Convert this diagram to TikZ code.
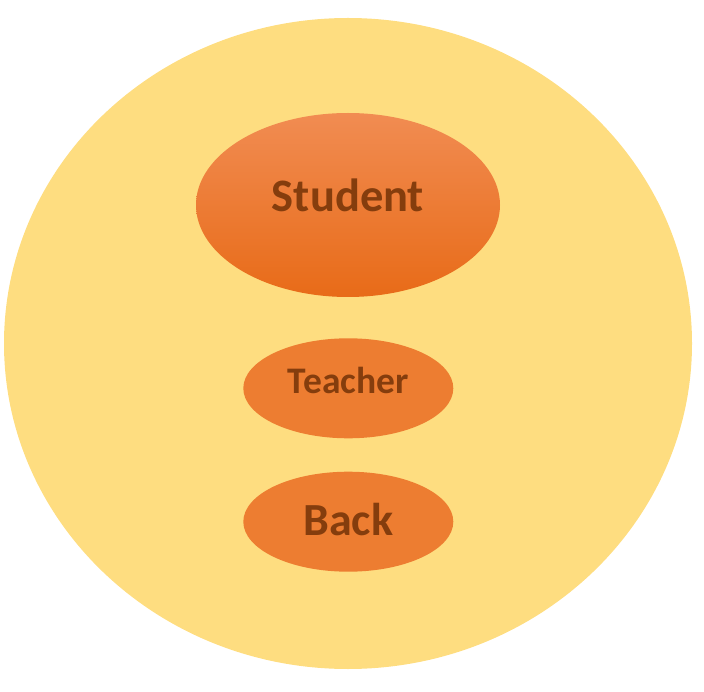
\documentclass[tikz,border=0pt]{standalone}
\usepackage{fontspec}
\setmainfont{Carlito}
\usepackage{tikz}
\usetikzlibrary{shapes.geometric}
\definecolor{gold}{RGB}{254,221,128}
\definecolor{peach}{RGB}{237,125,49}
\definecolor{rust}{RGB}{133,61,13}
\tikzset{
	blob/.style={ellipse, inner sep=0pt, draw=none},
	word/.style={anchor=base, text=rust, inner sep=0pt},
}

\begin{document}
\begin{tikzpicture}[x=1pt, y=-1pt]
\useasboundingbox (0,0) rectangle (704,692);
\node[blob, fill=gold, minimum width=688pt, minimum height=651pt] (field) at (348,343.5) {};
\node[blob, top color={rgb,255:red,241;green,140;blue,82}, middle color={rgb,255:red,244;green,126;blue,42}, bottom color={rgb,255:red,232;green,107;blue,24}, minimum width=304pt, minimum height=184pt] (student) at (348,205) {};
\node[blob, fill=peach, minimum width=210pt, minimum height=100pt] (teacher) at (348.3,388.3) {};
\node[blob, fill=peach, minimum width=210pt, minimum height=100pt] (back) at (348.3,521.7) {};
\node[word, font=\bfseries\fontsize{46.5}{50}\selectfont] (studentlbl) at ([yshift=-6.7pt]student.center) {Student};
\node[word, font=\bfseries\fontsize{37.5}{40}\selectfont] (teacherlbl) at ([yshift=-5pt]teacher.center) {Teacher};
\node[word, font=\bfseries\fontsize{46}{50}\selectfont] (backlbl) at ([yshift=-13.3pt]back.center) {Back};
\end{tikzpicture}
\end{document}
